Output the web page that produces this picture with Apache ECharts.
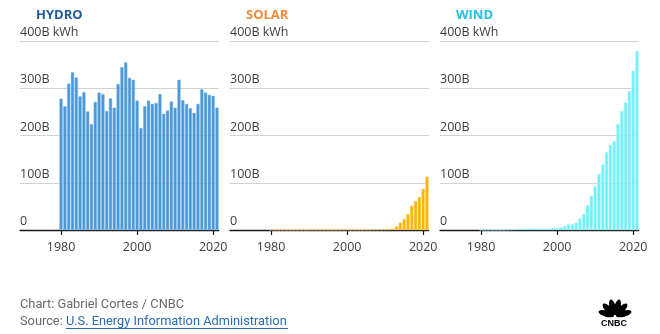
<!DOCTYPE html>
<html>
<head>
<meta charset="utf-8">
<script src="https://cdn.jsdelivr.net/npm/echarts@6/dist/echarts.min.js"></script>
<style>
html,body{margin:0;padding:0;background:#fff;}
#c{width:660px;height:334px;}
</style>
</head>
<body>
<div id="c"></div>
<script>
// ---- data (billion kWh) ----
var years = [1980,1981,1982,1983,1984,1985,1986,1987,1988,1989,
             1990,1991,1992,1993,1994,1995,1996,1997,1998,1999,
             2000,2001,2002,2003,2004,2005,2006,2007,2008,2009,
             2010,2011,2012,2013,2014,2015,2016,2017,2018,2019,
             2020,2021];
var hydro = [278,262,310,334,323,283,292,251,224,271,
             291,288,252,279,259,309,345,355,322,318,
             274,216,262,274,267,269,288,246,253,272,
             259,318,275,267,258,248,267,298,291,286,
             284,259];
var solar = [0,0,0,0,0,0,0,0,0,0,
             0.1,0.1,0.1,0.1,0.1,0.1,0.1,0.1,0.1,0.1,
             0.2,0.2,0.2,0.2,0.2,0.2,0.3,0.6,0.9,0.9,
             1.2,1.8,3,8,15.5,23,34,51.5,61.5,70,
             87,113];
var wind = [0,0,0,0.1,0.1,0.1,0.1,0.2,0.9,2.1,
            2.8,3.0,2.9,3.0,3.4,3.2,3.2,3.3,3.0,4.5,
            4.2,5.6,8.5,12,12.7,15.5,24.7,33.9,52.9,72,
            93,118.5,139,165,180,188,224,252,270,294,
            337,379];
var panelTitles = ['HYDRO','SOLAR','WIND'];
var xTicks = [1980, 2000, 2020];
var yTicks = [0, 100, 200, 300, 400];
var yTickLabels = ['0', '100B', '200B', '300B', '400B kWh'];

// ---- styles ----
var FONT = '"Open Sans", sans-serif';
var panelLefts = [20, 230, 440];
var panelWidth = 198.7;
var titleColors = ['#1d5b9b', '#f08a3c', '#22bfe6'];
var barColors = ['#4a97d8', '#fbb404', '#70f0fc'];
var barBorders = ['#8dbfea', '#fdd366', '#b0f7fd'];
var seriesData = [hydro, solar, wind];

function pairs(vals){
  var out = [];
  for (var i = 0; i < years.length; i++) out.push([years[i], vals[i]]);
  return out;
}

var grids = [], xAxes = [], yAxes = [], series = [], graphics = [];
for (var p = 0; p < 3; p++) {
  grids.push({left: panelLefts[p], width: panelWidth, top: 41, height: 189});
  xAxes.push({
    type: 'value', gridIndex: p, min: 1969.2, max: 2021.45,
    splitLine: {show: false},
    axisLine: {show: true, lineStyle: {color: '#1a1a1a', width: 1.3}},
    axisTick: {show: true, length: 5, lineStyle: {color: '#1a1a1a', width: 1.2}, customValues: xTicks},
    axisLabel: {show: true, customValues: xTicks, color: '#3d3d3d', fontFamily: FONT, fontSize: 12.5, margin: 11,
      formatter: function(v){ return String(v); }}
  });
  yAxes.push({
    type: 'value', gridIndex: p, min: 0, max: 400, interval: 100,
    axisLine: {show: false}, axisTick: {show: false},
    splitLine: {show: true, lineStyle: {color: '#d2d2d2', width: 1}},
    axisLabel: {inside: true, margin: 0, color: '#3d3d3d', fontFamily: FONT, fontSize: 12.5,
      verticalAlign: 'bottom', padding: [0, 0, 2, 0],
      formatter: function(v){ var i = yTicks.indexOf(v); return i >= 0 ? yTickLabels[i] : ''; }}
  });
  series.push({
    type: 'bar', xAxisIndex: p, yAxisIndex: p, barWidth: 3.3,
    data: pairs(seriesData[p]),
    itemStyle: {color: barColors[p], borderColor: barBorders[p], borderWidth: 0.5},
    silent: true, animation: false
  });
  graphics.push({
    type: 'text', left: panelLefts[p] + 16, top: 9,
    style: {text: panelTitles[p], fill: titleColors[p], font: 'bold 13px ' + FONT}
  });
}

// footer
graphics.push({
  type: 'text', left: 20, top: 298,
  style: {text: 'Chart: Gabriel Cortes / CNBC', fill: '#6a6a6a', font: '12.8px Roboto, sans-serif'}
});
graphics.push({
  type: 'text', left: 20, top: 315,
  style: {
    text: '{a|Source: }{b|U.S. Energy Information Administration}',
    rich: {
      a: {fill: '#6a6a6a', font: '12.8px Roboto, sans-serif'},
      b: {fill: '#2a6cb5', font: '12.8px Roboto, sans-serif'}
    }
  }
});
graphics.push({
  type: 'line', shape: {x1: 66, y1: 328.5, x2: 288, y2: 328.5},
  style: {stroke: '#2a6cb5', lineWidth: 1}
});

// CNBC peacock logo
var logoCx = 615, logoCy = 316;
var feathers = [];
for (var k = 0; k < 6; k++) {
  var ang = (165 - k * 30) * Math.PI / 180;
  feathers.push({
    type: 'ellipse',
    x: logoCx + 9 * Math.cos(ang), y: logoCy - 9 * Math.sin(ang),
    rotation: ang - Math.PI / 2,
    shape: {cx: 0, cy: 0, rx: 3.1, ry: 8},
    style: {fill: '#000'}
  });
}
graphics.push({type: 'group', children: feathers});
graphics.push({
  type: 'text', left: 601, top: 319,
  style: {text: 'CNBC', fill: '#000', font: 'bold 9px "Liberation Sans", Arial, sans-serif'}
});

var chart = echarts.init(document.getElementById('c'), null, {renderer: 'canvas'});
chart.setOption({
  animation: false,
  backgroundColor: '#ffffff',
  grid: grids, xAxis: xAxes, yAxis: yAxes, series: series,
  graphic: graphics
});
</script>
</body>
</html>
